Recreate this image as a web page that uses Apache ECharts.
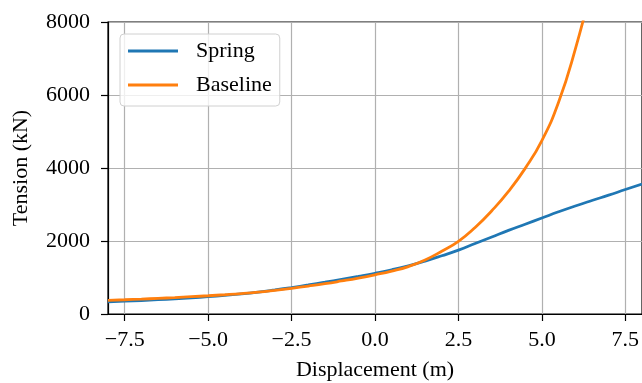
<!DOCTYPE html>
<html>
<head>
<meta charset="utf-8">
<style>
  html, body { margin: 0; padding: 0; background: #fff; }
  #chart { width: 642px; height: 383px; }
</style>
<script src="https://cdn.jsdelivr.net/npm/echarts@6/dist/echarts.min.js"></script>
</head>
<body>
<div id="chart"></div>
<script>
// displacement (m)
const springX = [-8, -7.5, -7, -6.5, -6, -5.5, -5, -4.5, -4, -3.5, -3, -2.5, -2, -1.5, -1, -0.5,
  0, 0.5, 1, 1.5, 2, 2.5, 3, 3.5, 4, 4.5, 5, 5.5, 6, 6.5, 7, 7.5, 8]
// tension (kN)
const springY = [330, 350, 370, 392, 416, 443, 474, 510, 550, 600, 660, 725, 795, 870, 950, 1030,
  1115, 1210, 1320, 1450, 1595, 1750, 1930, 2110, 2290, 2460, 2630, 2800, 2960, 3110, 3255, 3410, 3560]

const baseX = [-8, -7.5, -7, -6.5, -6, -5.5, -5, -4.5, -4, -3.5, -3, -2.5, -2, -1.5, -1, -0.5,
  0, 0.5, 1, 1.5, 2, 2.5, 3, 3.5, 4, 4.5, 5, 5.5, 6, 6.5]
const baseY = [375, 390, 408, 428, 450, 474, 500, 528, 560, 600, 650, 705, 765, 830, 905, 985,
  1075, 1175, 1300, 1480, 1720, 1990, 2370, 2830, 3360, 3990, 4750, 5800, 7250, 9000]

const xTicks = [-7.5, -5, -2.5, 0, 2.5, 5, 7.5]

const font = "'Liberation Serif', 'DejaVu Serif', serif"
const zip = (xs, ys) => xs.map((x, i) => [x, ys[i]])
const fmtX = v => (v < 0 ? '\u2212' : '') + Math.abs(v).toFixed(1)

const chart = echarts.init(document.getElementById('chart'))
const option = {
  animation: false,
  grid: {
    left: 108, right: 0, top: 22, bottom: 69,
    outerBoundsMode: 'none',
    show: true, borderColor: '#000', borderWidth: 1.2
  },
  legend: {
    orient: 'vertical',
    left: 120, top: 34,
    padding: [6, 8, 10, 8],
    itemGap: 12,
    itemWidth: 50, itemHeight: 3,
    icon: 'rect',
    backgroundColor: 'rgba(255,255,255,0.8)',
    borderColor: '#d0d0d0', borderWidth: 1, borderRadius: 4,
    textStyle: { fontFamily: font, fontSize: 22, color: '#000', padding: [0, 0, 0, 13] },
    data: ['Spring', 'Baseline']
  },
  xAxis: {
    type: 'value',
    min: -8, max: 8,
    name: 'Displacement (m)',
    nameLocation: 'middle', nameGap: 45,
    nameTextStyle: { fontFamily: font, fontSize: 22, color: '#000' },
    axisLine: { onZero: false, lineStyle: { color: '#000', width: 1.2 } },
    axisTick: { show: true, customValues: xTicks, length: 7, lineStyle: { color: '#000', width: 1.2 } },
    axisLabel: { customValues: xTicks, formatter: fmtX, margin: 15, fontFamily: font, fontSize: 22, color: '#000' },
    splitLine: { show: true, lineStyle: { color: '#b0b0b0', width: 1.2 } }
  },
  yAxis: {
    type: 'value',
    min: 0, max: 8000, interval: 2000,
    name: 'Tension (kN)',
    nameLocation: 'middle', nameGap: 76,
    nameTextStyle: { fontFamily: font, fontSize: 22, color: '#000' },
    axisLine: { show: true, onZero: false, lineStyle: { color: '#000', width: 1.2 } },
    axisTick: { show: true, length: 7, lineStyle: { color: '#000', width: 1.2 } },
    axisLabel: { margin: 18, formatter: v => String(v), fontFamily: font, fontSize: 22, color: '#000' },
    splitLine: { show: true, lineStyle: { color: '#b0b0b0', width: 1.2 } }
  },
  series: [
    {
      name: 'Spring', type: 'line', smooth: true, symbol: 'none',
      color: '#1f77b4',
      lineStyle: { width: 2.8, color: '#1f77b4' },
      data: zip(springX, springY)
    },
    {
      name: 'Baseline', type: 'line', smooth: true, symbol: 'none',
      color: '#ff7f0e',
      lineStyle: { width: 2.8, color: '#ff7f0e' },
      data: zip(baseX, baseY)
    }
  ]
}
chart.setOption(option)
window.addEventListener('resize', () => {
  chart.resize()
})
</script>
</body>
</html>
